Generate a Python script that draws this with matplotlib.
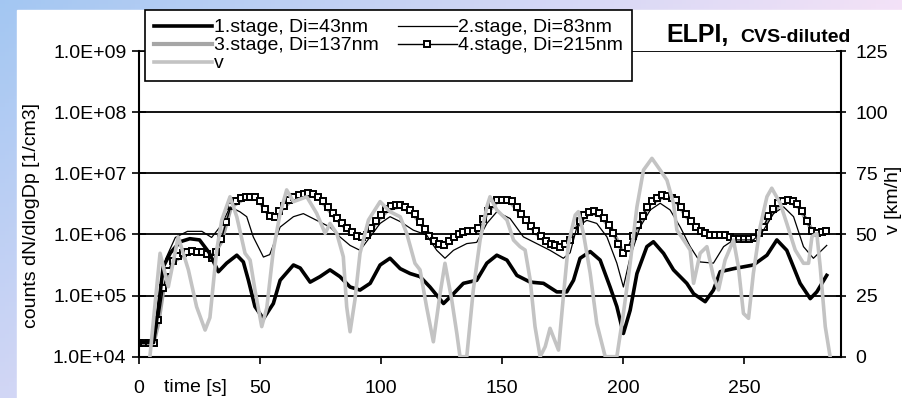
import numpy as np
import matplotlib
matplotlib.use("Agg")
import matplotlib.pyplot as plt

plt.rcParams['font.family'] = ['Liberation Sans', 'DejaVu Sans']

# ---- data (counts given as log10 exponents) ----
# 4.stage, sampled every 2 s
t4 = np.arange(0, 286, 2)
s4_log = [4.23, 4.23, 4.23, 4.23, 4.60, 5.12, 5.40, 5.57, 5.65, 5.70,
          5.72, 5.73, 5.72, 5.72, 5.68, 5.62, 5.72, 5.92, 6.20, 6.47,
          6.55, 6.60, 6.62, 6.62, 6.61, 6.55, 6.42, 6.30, 6.28, 6.38,
          6.47, 6.56, 6.62, 6.65, 6.66, 6.67, 6.66, 6.61, 6.54, 6.45,
          6.35, 6.27, 6.18, 6.10, 6.04, 5.98, 5.96, 5.99, 6.10, 6.22,
          6.32, 6.42, 6.46, 6.48, 6.48, 6.45, 6.40, 6.33, 6.21, 6.09,
          5.98, 5.90, 5.85, 5.82, 5.90, 5.96, 6.01, 6.04, 6.05, 6.06,
          6.10, 6.25, 6.39, 6.50, 6.56, 6.57, 6.57, 6.55, 6.45, 6.33,
          6.23, 6.14, 6.05, 5.98, 5.90, 5.85, 5.82, 5.80, 5.84, 5.91,
          6.05, 6.22, 6.32, 6.37, 6.38, 6.35, 6.27, 6.15, 6.02, 5.85,
          5.70, 5.78, 5.98, 6.15, 6.30, 6.45, 6.54, 6.60, 6.64, 6.63,
          6.60, 6.56, 6.45, 6.33, 6.22, 6.12, 6.06, 6.02, 5.99, 5.99,
          5.99, 5.99, 5.96, 5.93, 5.93, 5.93, 5.93, 5.94, 6.02, 6.12,
          6.30, 6.42, 6.51, 6.55, 6.56, 6.54, 6.49, 6.38, 6.22, 6.05,
          6.02, 6.04, 6.05]

# 3.stage (mostly hidden under 4.stage)
t3 = [0, 6, 8, 10, 14, 20, 27, 30, 34, 38, 44, 49, 53, 55, 60, 65, 71, 75,
      80, 86, 91, 94, 98, 103, 108, 113, 118, 122, 126, 130, 134, 140, 144,
      148, 153, 159, 164, 170, 174, 178, 182, 186, 190, 195, 198, 200, 203,
      207, 211, 217, 222, 226, 232, 236, 243, 247, 254, 258, 261, 265, 269,
      273, 276, 279, 284]
s3_log = [4.22, 4.22, 4.55, 5.08, 5.55, 5.70, 5.70, 5.60, 5.88, 6.45, 6.60,
          6.58, 6.36, 6.26, 6.45, 6.63, 6.65, 6.57, 6.32, 6.08, 5.94, 5.96,
          6.20, 6.41, 6.46, 6.35, 6.10, 5.89, 5.80, 5.94, 6.02, 6.06, 6.36,
          6.54, 6.55, 6.28, 6.02, 5.83, 5.78, 5.89, 6.21, 6.35, 6.33, 6.10,
          5.87, 5.68, 5.83, 6.21, 6.50, 6.62, 6.54, 6.30, 6.05, 5.97, 5.97,
          5.91, 5.91, 6.10, 6.32, 6.51, 6.54, 6.43, 6.21, 6.00, 6.03]

# 1.stage
t1 = [0, 6, 8, 10, 13, 17, 21, 25, 29, 32.8, 36.2, 40.4, 43.1, 45.2, 47.9,
      51.4, 55.5, 58.3, 63.8, 66.6, 70.7, 74.8, 78.9, 83, 87.2, 91.3, 95.5,
      99.6, 103.7, 107.9, 112, 116.1, 120.2, 125.8, 129.9, 134, 139.5, 143.7,
      147.8, 152, 156.1, 161.6, 167.1, 172.6, 176.7, 179.5, 182.2, 186.4,
      190.5, 194.6, 197.4, 200.1, 202.9, 205.7, 209.8, 212.5, 216.7, 220.8,
      226.3, 229.1, 233.9, 237.3, 240.1, 245.6, 253.8, 259.4, 263.5, 267.6,
      273.1, 277.3, 280, 284.1]
s1_log = [4.23, 4.23, 4.80, 5.47, 5.70, 5.88, 5.93, 5.91, 5.70, 5.39, 5.53,
          5.66, 5.55, 5.25, 4.82, 4.62, 4.87, 5.25, 5.50, 5.45, 5.22, 5.31,
          5.42, 5.31, 5.14, 5.09, 5.20, 5.50, 5.61, 5.44, 5.36, 5.31, 5.14,
          4.87, 5.03, 5.20, 5.25, 5.53, 5.66, 5.58, 5.33, 5.22, 5.20, 5.06,
          5.06, 5.25, 5.61, 5.72, 5.58, 5.14, 4.82, 4.38, 4.76, 5.36, 5.80,
          5.88, 5.69, 5.42, 5.20, 5.03, 4.90, 5.09, 5.39, 5.44, 5.50, 5.66,
          5.91, 5.74, 5.20, 4.95, 5.06, 5.33]

# 2.stage
t2 = [0, 6, 8, 11, 15, 20, 26, 30, 34, 37.6, 41.7, 44.5, 47.2, 51.4, 54,
      58.3, 63.8, 67.9, 73.4, 78.9, 83, 87.2, 91.3, 95.5, 99.6, 103.7, 107.9,
      113.3, 118.8, 123, 126.4, 129.9, 135.4, 139.5, 143.7, 147.8, 153.3,
      158.8, 164.3, 169.8, 175.3, 178.1, 180.9, 185, 189.1, 193.3, 197.4,
      200.1, 202.9, 207, 211.2, 215.3, 219.4, 223.6, 227.7, 231.8, 237.3,
      241.5, 245.6, 253.8, 258, 262.1, 266.3, 270.4, 274.5, 278.6, 284.1]
s2_log = [4.23, 4.23, 4.90, 5.60, 5.95, 6.05, 6.05, 5.95, 6.15, 6.45, 6.37,
          6.29, 5.96, 5.63, 5.67, 6.12, 6.29, 6.34, 6.23, 6.12, 5.96, 5.82,
          5.74, 5.96, 6.18, 6.29, 6.21, 6.07, 5.99, 5.74, 5.61, 5.74, 5.85,
          5.87, 6.18, 6.37, 6.26, 5.96, 5.85, 5.74, 5.61, 5.70, 6.12, 6.23,
          6.18, 5.96, 5.53, 5.14, 5.63, 6.12, 6.40, 6.51, 6.40, 6.12, 5.80,
          5.55, 5.53, 5.80, 5.91, 5.91, 6.07, 6.34, 6.45, 6.29, 5.80, 5.61,
          5.82]

# vehicle speed v [km/h]
tv = [4.5, 8.7, 12.1, 16.2, 20.4, 23.8, 27.3, 29.3, 32.1, 34.2, 37.6, 40.4,
      43.8, 45.9, 47.9, 50.7, 52.8, 55.5, 58.3, 61, 63.8, 69.3, 73.4, 76.9,
      78.9, 81.7, 84.4, 85.8, 87.2, 89.2, 91.3, 94.8, 99.6, 103.7, 107.9,
      110.6, 114, 116.1, 118.8, 121.6, 124.4, 126.4, 129.2, 131.3, 132.6,
      135.4, 138.1, 140.9, 143.7, 145, 147.8, 152, 154.7, 157.4, 159.5,
      161.6, 163.6, 165.7, 167.8, 169.8, 173.3, 175.3, 177.4, 180.2, 181.5,
      183.6, 186.4, 189.1, 192.6, 197.4, 200.1, 202.9, 205.7, 208.4, 211.9,
      215.3, 218.1, 220.8, 222.2, 225, 227.7, 229.1, 231.8, 234.6, 237.3,
      239.4, 242.1, 245.6, 247.6, 249.7, 251.8, 253.8, 256.6, 259.4, 261.4,
      264.9, 267.6, 271.1, 274.5, 276.6, 278, 280, 281.4, 283.5, 285.5]
v = [0, 42.3, 28.6, 49, 35.5, 20.4, 10.9, 16, 43.6, 55.9, 65.4, 57.2, 42.3,
     39.5, 27.3, 12.3, 20, 43.6, 58.6, 68.2, 63.4, 65.4, 58.6, 50.4, 54.5,
     50.4, 40.9, 20.4, 10.2, 23.2, 42.3, 55.9, 63.4, 59.3, 57.2, 50.4, 38.2,
     35.5, 20.4, 6.1, 25.9, 38.2, 23.2, 9.5, 0, 0, 27.3, 47.7, 61.3, 65.4,
     60, 55.9, 47.7, 45, 43.6, 31.4, 12.3, 0, 4.1, 11.6, 2.7, 24.5, 46.3,
     57.9, 59.3, 50.4, 34.1, 13.6, 0, 0, 17.7, 38.2, 61.3, 76.3, 81.1, 76.3,
     72.2, 62.7, 51.8, 47.7, 43.6, 30, 42.3, 45, 32.7, 27.3, 39.5, 47.7,
     36.8, 17.7, 15.7, 34.1, 53.1, 65.4, 68.9, 62.7, 54.5, 43.6, 38.2, 38.2,
     49.1, 50.4, 36.8, 12.3, 0]

xticks = [0, 50, 100, 150, 200, 250]
yticks = [1e4, 1e5, 1e6, 1e7, 1e8, 1e9]
ytick_labels = ['1.0E+04', '1.0E+05', '1.0E+06', '1.0E+07', '1.0E+08', '1.0E+09']
vticks = [0, 25, 50, 75, 100, 125]

W, H = 903, 398
fig = plt.figure(figsize=(W / 100, H / 100), dpi=100)

# slide-like background: gradient frame with white panel
bg = fig.add_axes([0, 0, 1, 1], zorder=-10)
gx, gy = np.meshgrid(np.linspace(0, 1, 200), np.linspace(0, 1, 100))
s = np.clip(0.95 * gx + 0.55 * gy, 0, 1)[..., None]
c0 = np.array([0.64, 0.78, 0.95])
c1 = np.array([0.97, 0.89, 0.97])
bg.imshow(c0 * (1 - s) + c1 * s, aspect='auto', extent=[0, 1, 0, 1], origin='upper')
bg.add_patch(plt.Rectangle((17 / W, 0), 1, 1 - 10 / H, color='white'))
bg.set_xlim(0, 1)
bg.set_ylim(0, 1)
bg.axis('off')

left, right, top, bottom = 139, 841, 51, 356.7
ax = fig.add_axes([left / W, 1 - bottom / H, (right - left) / W, (bottom - top) / H])
ax.set_facecolor('none')
ax.set_yscale('log')
ax.set_ylim(1e4, 1e9)
ax.set_xlim(0, 290)

l3, = ax.plot(t3, 10 ** np.array(s3_log), color='#a6a6a6', lw=3.0)
l4, = ax.plot(t4, 10 ** np.array(s4_log), color='black', lw=1.0, marker='s',
              ms=5, mfc='white', mec='black', mew=1.4)
l2, = ax.plot(t2, 10 ** np.array(s2_log), color='black', lw=0.9)
l1, = ax.plot(t1, 10 ** np.array(s1_log), color='black', lw=2.6)

ax.set_yticks(yticks)
ax.set_yticklabels(ytick_labels)
ax.yaxis.set_minor_locator(matplotlib.ticker.NullLocator())
ax.set_xticks(xticks)
ax.set_xticklabels([str(x) for x in xticks])
ax.yaxis.grid(True, color='black', lw=1.3)
ax.set_axisbelow(True)
ax.tick_params(axis='y', direction='inout', length=10, width=1.2, labelsize=14, pad=4)
ax.tick_params(axis='x', direction='out', length=5, width=1.2, labelsize=14, pad=12)
for sp in ['top', 'right']:
    ax.spines[sp].set_visible(False)
ax.spines['left'].set_linewidth(1.5)
ax.spines['bottom'].set_linewidth(1.5)

ax2 = ax.twinx()
lv, = ax2.plot(tv, v, color='#c3c3c3', lw=2.6)
ax2.set_ylim(0, 125)
ax2.set_yticks(vticks)
ax2.tick_params(axis='y', direction='inout', length=7, width=1.2, labelsize=14, pad=7)
for sp in ['top', 'left', 'bottom']:
    ax2.spines[sp].set_visible(False)
ax2.spines['right'].set_linewidth(1.5)

fig.legend([l1, l3, lv, l2, l4],
           ['1.stage, Di=43nm', '3.stage, Di=137nm', 'v',
            '2.stage, Di=83nm', '4.stage, Di=215nm'],
           ncol=2, loc='upper left', bbox_to_anchor=(145 / W, 1 - 10 / H),
           borderaxespad=0, fontsize=14, handlelength=3.0, handletextpad=0.1,
           columnspacing=1.0, labelspacing=0.02, borderpad=0.45,
           fancybox=False, framealpha=1, edgecolor='black')
fig.legends[0].get_frame().set_linewidth(1.2)

fig.text(32 / W, 1 - 215 / H, 'counts dN/dlogDp [1/cm3]', rotation=90,
         ha='center', va='center', fontsize=14)
fig.text(894 / W, 1 - 200 / H, 'v [km/h]', rotation=90,
         ha='center', va='center', fontsize=14)
fig.text(195 / W, 1 - 387 / H, 'time [s]', ha='center', va='center', fontsize=14)
fig.text(666 / W, 1 - 42 / H, 'ELPI,', fontsize=18, weight='bold', va='baseline')
fig.text(740 / W, 1 - 42 / H, 'CVS-diluted', fontsize=14, weight='bold', va='baseline')

fig.savefig('out.png', dpi=100)
